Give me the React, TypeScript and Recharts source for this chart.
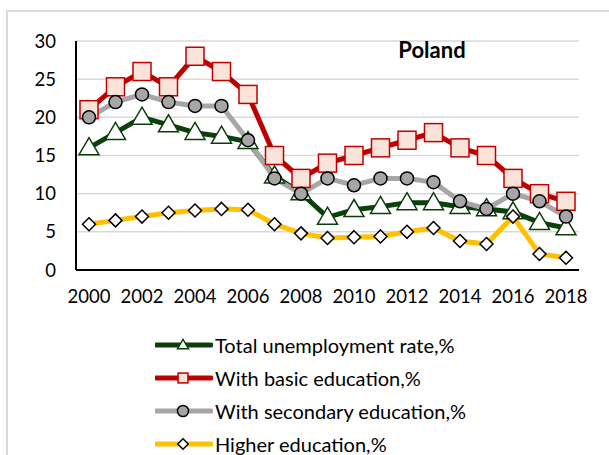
import { LineChart, Line, XAxis, YAxis, CartesianGrid, Legend } from 'recharts';

const years = [2000, 2001, 2002, 2003, 2004, 2005, 2006, 2007, 2008, 2009, 2010, 2011, 2012, 2013, 2014, 2015, 2016, 2017, 2018];
const totalRate = [16, 18, 20, 19, 18, 17.5, 16.8, 12.3, 10.1, 6.9, 7.9, 8.3, 8.8, 8.8, 8.3, 8, 7.6, 6.2, 5.5];
const basicEdu = [21, 24, 26, 24, 28, 26, 23, 15, 12, 14, 15, 16, 17, 18, 16, 15, 12, 10, 9];
const secondaryEdu = [20, 22, 23, 22, 21.5, 21.5, 17, 12, 10, 12, 11.1, 12, 12, 11.5, 9, 8, 10, 9, 7];
const higherEdu = [6, 6.5, 7, 7.5, 7.8, 8, 7.9, 6, 4.8, 4.2, 4.3, 4.4, 5, 5.5, 3.8, 3.4, 7, 2.1, 1.6];
const yTicks = [0, 5, 10, 15, 20, 25, 30];

const data = years.map((year, i) => ({
  year,
  total: totalRate[i],
  basic: basicEdu[i],
  secondary: secondaryEdu[i],
  higher: higherEdu[i],
}));

const FONT = 'Lato, "Open Sans", sans-serif';

type Shape = 'triangle' | 'square' | 'circle' | 'diamond';

function Marker({ cx, cy, shape, small }: { cx: number; cy: number; shape: Shape; small?: boolean }) {
  if (cx == null || cy == null) return null;
  const k = small ? 0.55 : 1;
  if (shape === 'triangle') {
    const w = 10 * k, h = 17 * k;
    return <polygon points={`${cx},${cy - h * 0.6} ${cx + w},${cy + h * 0.4} ${cx - w},${cy + h * 0.4}`} fill="#fff" stroke="#0b3d0b" strokeWidth={1.5} />;
  }
  if (shape === 'square') {
    const s = 9 * k;
    return <rect x={cx - s} y={cy - s} width={s * 2} height={s * 2} fill="#fae3d8" stroke="#c00000" strokeWidth={1.5} />;
  }
  if (shape === 'circle') {
    return <circle cx={cx} cy={cy} r={6.5 * (small ? 0.85 : 1)} fill="#a6a6a6" stroke="#000" strokeWidth={1.5} />;
  }
  const d = 6.5 * (small ? 0.8 : 1);
  return <polygon points={`${cx},${cy - d} ${cx + d},${cy} ${cx},${cy + d} ${cx - d},${cy}`} fill="#fff" stroke="#000" strokeWidth={1.5} />;
}

const series: { key: string; name: string; color: string; shape: Shape }[] = [
  { key: 'total', name: 'Total unemployment rate,%', color: '#0b400b', shape: 'triangle' },
  { key: 'basic', name: 'With basic education,%', color: '#c00000', shape: 'square' },
  { key: 'secondary', name: 'With secondary education,%', color: '#a6a6a6', shape: 'circle' },
  { key: 'higher', name: 'Higher education,%', color: '#ffc000', shape: 'diamond' },
];

function LegendContent() {
  return (
    <div style={{ fontFamily: FONT, fontSize: 20, color: '#000' }}>
      {series.map(s => (
        <div key={s.key} style={{ display: 'flex', alignItems: 'center', height: 33 }}>
          <svg width={58} height={20}>
            <line x1={1} y1={10} x2={56} y2={10} stroke={s.color} strokeWidth={5} strokeLinecap="round" />
            <Marker cx={28} cy={10} shape={s.shape} small />
          </svg>
          <span style={{ marginLeft: 2, whiteSpace: 'nowrap' }}>{s.name}</span>
        </div>
      ))}
    </div>
  );
}

export default function App() {
  return (
    <div style={{ position: 'absolute', left: 0, top: 0, width: 609, height: 455, background: '#fff' }}>
      <div style={{ position: 'absolute', left: 6, top: 10, right: 0, bottom: 0, borderTop: '2px solid #dadada', borderLeft: '2px solid #dadada' }} />
      <LineChart width={609} height={455} data={data} margin={{ top: 41, right: 30, bottom: 155, left: 0 }}>
        <CartesianGrid vertical={false} stroke="#d9d9d9" strokeWidth={1.5} />
        <XAxis
          dataKey="year"
          interval={1}
          padding={{ left: 13, right: 13 }}
          tickLine={false}
          tickSize={0}
          tickMargin={20}
          axisLine={{ stroke: '#000', strokeWidth: 2 }}
          tick={{ fill: '#000', fontSize: 18.5, fontFamily: FONT }}
          height={30}
        />
        <YAxis
          domain={[0, 30]}
          ticks={yTicks}
          width={76}
          tickLine={false}
          tickSize={0}
          tickMargin={20}
          axisLine={{ stroke: '#000', strokeWidth: 2 }}
          tick={{ fill: '#000', fontSize: 18.5, fontFamily: FONT }}
        />
        {series.map(s => (
          <Line
            key={s.key}
            type="linear"
            dataKey={s.key}
            name={s.name}
            stroke={s.color}
            strokeWidth={5}
            dot={(p: any) => <Marker key={`${s.key}-${p.index}`} cx={p.cx} cy={p.cy} shape={s.shape} />}
            activeDot={false}
            isAnimationActive={false}
          />
        ))}
        <Legend
          layout="horizontal"
          verticalAlign="middle"
          align="center"
          content={() => <LegendContent />}
          wrapperStyle={{ left: 155, top: 328, width: 350 }}
        />
      </LineChart>
      <div style={{ position: 'absolute', left: 382, top: 36, width: 100, textAlign: 'center', fontFamily: FONT, fontWeight: 700, fontSize: 22 }}>
        Poland
      </div>
    </div>
  );
}
